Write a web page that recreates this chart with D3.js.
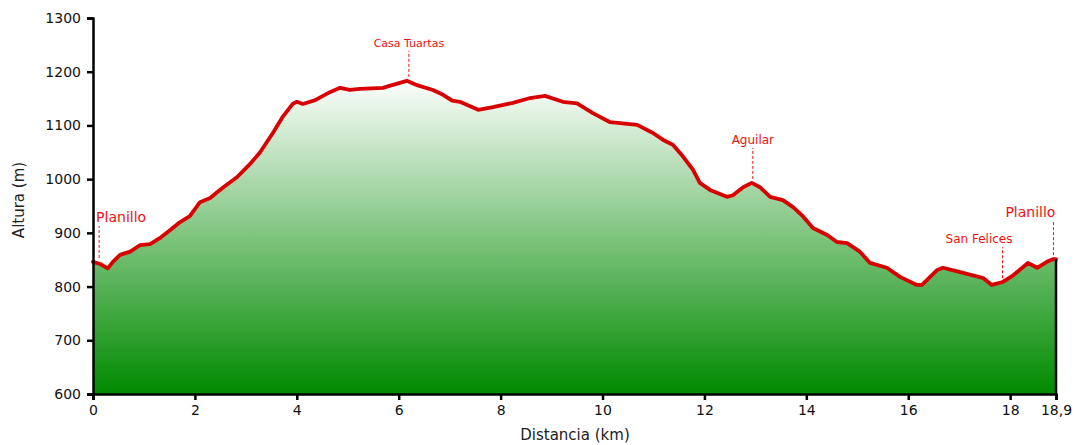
<!DOCTYPE html>
<html>
<head>
<meta charset="utf-8">
<style>
body { margin: 0; background: white; }
text { font-family: "DejaVu Sans", Verdana, sans-serif; }
.axis path, .axis line { stroke: black; stroke-width: 2.5; }
.axis text { fill: #111; font-size: 14px; }
</style>
<script src="https://d3js.org/d3.v7.min.js"></script>
</head>
<body>
<svg id="chart" width="1076" height="445"></svg>
<script>
// profile: distance (km) and altitude (m)
var dist = [0, 0.14, 0.29, 0.39, 0.53, 0.73, 0.92, 1.12, 1.31, 1.51, 1.71, 1.90, 2.10, 2.30, 2.43, 2.56, 2.83, 3.06, 3.28, 3.53, 3.73, 3.92, 4.0, 4.12, 4.36,
  4.65, 4.85, 5.04, 5.24, 5.69, 5.87, 6.16, 6.36, 6.67, 6.87, 7.05, 7.2, 7.56, 7.85, 8.24, 8.58, 8.87, 9.22, 9.5, 9.81,
  10.15, 10.68, 10.99, 11.19, 11.38, 11.58, 11.78, 11.91, 12.11, 12.44, 12.56, 12.76, 12.93, 13.09, 13.29, 13.54, 13.74,
  13.94, 14.13, 14.41, 14.6, 14.8, 15.05, 15.25, 15.58, 15.84, 16.17, 16.27, 16.57, 16.68, 17.02, 17.47, 17.64, 17.84,
  18.06, 18.35, 18.53, 18.72, 18.84, 18.9];
var alt = [846, 842, 834, 846, 859, 865, 877, 879, 890, 905, 920, 931, 957, 965, 975, 985, 1004, 1026, 1050, 1086, 1117, 1140, 1144, 1140, 1147,
  1162, 1170, 1166, 1168, 1170, 1175, 1183, 1175, 1166, 1157, 1146, 1144, 1129, 1134, 1142, 1151, 1155, 1144, 1141, 1123,
  1106, 1101, 1086, 1073, 1064, 1042, 1017, 993, 980, 967, 970, 985, 993, 985, 967, 961, 948,
  930, 909, 896, 883, 881, 865, 844, 835, 818, 803, 803, 831, 835, 827, 816, 803, 808,
  821, 844, 835, 846, 851, 851];

var xTicks = [0, 2, 4, 6, 8, 10, 12, 14, 16, 18, 18.9];
var yTicks = [600, 700, 800, 900, 1000, 1100, 1200, 1300];

// place names
var placeNames = ["Planillo", "Casa Tuartas", "Aguilar", "San Felices", "Planillo"];
var placeKm = [0.12, 6.2, 12.95, 17.85, 18.85];
var placeAlt = [846, 1183, 993, 808, 851];

var margin = {left: 93, top: 18, right: 20, bottom: 51};
var W = 1076, H = 445;
var svg = d3.select("#chart");
var x = d3.scaleLinear().domain([0, 18.9]).range([margin.left, W - margin.right]);
var y = d3.scaleLinear().domain([600, 1300]).range([H - margin.bottom, margin.top]);

var pts = dist.map(function(d, i) { return {d: d, a: alt[i]}; });

var grad = svg.append("defs").append("linearGradient")
  .attr("id", "fillg").attr("gradientUnits", "userSpaceOnUse")
  .attr("x1", 0).attr("x2", 0).attr("y1", y(1190)).attr("y2", y(600));
grad.append("stop").attr("offset", 0).attr("stop-color", "#ffffff");
grad.append("stop").attr("offset", 0.5).attr("stop-color", "#7fc47f");
grad.append("stop").attr("offset", 1).attr("stop-color", "#008a00");

var area = d3.area()
  .x(function(d) { return x(d.d); })
  .y0(y(600))
  .y1(function(d) { return y(d.a); });
var line = d3.line()
  .x(function(d) { return x(d.d); })
  .y(function(d) { return y(d.a); });

svg.append("path").datum(pts).attr("d", area).attr("fill", "url(#fillg)");
svg.append("path").datum(pts).attr("d", line)
  .attr("fill", "none").attr("stroke", "#d90000").attr("stroke-width", 3.8)
  .attr("stroke-linejoin", "round").attr("stroke-linecap", "round");

// right edge of the profile
svg.append("line")
  .attr("x1", x(18.9)).attr("x2", x(18.9))
  .attr("y1", y(alt[alt.length - 1])).attr("y2", y(600))
  .attr("stroke", "black").attr("stroke-width", 2.5);

svg.append("g").attr("class", "axis")
  .attr("transform", "translate(0," + y(600) + ")")
  .call(d3.axisBottom(x).tickValues(xTicks).tickSizeOuter(0).tickSize(6).tickPadding(5)
    .tickFormat(function(d) { return d === 18.9 ? "18,9" : d; }));

svg.append("g").attr("class", "axis")
  .attr("transform", "translate(" + x(0) + ",0)")
  .call(d3.axisLeft(y).tickValues(yTicks).tickSizeOuter(0).tickSize(6).tickPadding(6)
    .tickFormat(function(d) { return d; }));

// axis titles
svg.append("text").attr("x", 575).attr("y", 440).attr("text-anchor", "middle")
  .style("font-size", "15px").attr("fill", "#222").text("Distancia (km)");
svg.append("text").attr("transform", "translate(24,200) rotate(-90)")
  .attr("text-anchor", "middle").style("font-size", "15px").attr("fill", "#222").text("Altura (m)");

// place labels with dashed leaders
var labelDy = [40, 34, 39, 39, 42];
var labelSize = [14, 11, 12, 12, 14];
var anchors = ["start", "middle", "middle", "end", "end"];
var labelDx = [-3, 0, 0, 10, 2];
placeNames.forEach(function(name, i) {
  var px = x(placeKm[i]), py = y(placeAlt[i]);
  var base = py - labelDy[i];
  svg.append("line")
    .attr("x1", px).attr("x2", px).attr("y1", py - 4).attr("y2", base + 4)
    .attr("stroke", "#ee1111").attr("stroke-width", 1).attr("stroke-dasharray", "3,2");
  svg.append("text")
    .attr("x", px + labelDx[i]).attr("y", base)
    .attr("text-anchor", anchors[i])
    .style("font-size", labelSize[i] + "px")
    .attr("fill", "#ee1111").text(name);
});
</script>
</body>
</html>
